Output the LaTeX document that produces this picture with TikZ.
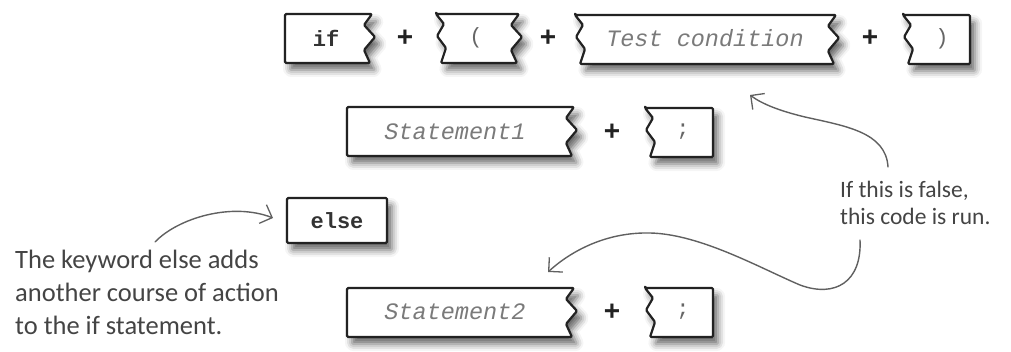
\documentclass[tikz,border=0pt]{standalone}
\usepackage{fontspec}
\setmonofont{Liberation Mono}
\newfontfamily\handfont{Carlito}
\newfontfamily\plusfont{Liberation Sans}
\usetikzlibrary{arrows.meta,shadows.blur}
\definecolor{ink}{HTML}{222222}
\definecolor{codedark}{HTML}{333333}
\definecolor{codegray}{HTML}{7A7A7A}
\definecolor{punct}{HTML}{666666}
\definecolor{handink}{HTML}{444444}
\definecolor{arrowink}{HTML}{606060}
\begin{document}
\begin{tikzpicture}[x=1pt,y=-1pt,
  frame/.style={draw=ink, line width=2.2pt, fill=white, line join=round, rounded corners=1.2pt,
    blur shadow={shadow xshift=5pt, shadow yshift=-7pt, shadow blur radius=7pt, shadow opacity=60}},
  wr/.style 2 args={insert path={-- ({#1-8},{#2+11}) -- ({#1+3},{#2+23}) -- ({#1-8},{#2+36}) -- ({#1-2},{#2+49})}},
  wl/.style 2 args={insert path={-- ({#1+10},{#2+34}) -- ({#1+1},{#2+22}) -- ({#1+8},{#2+10}) -- (#1,#2)}},
  kw/.style={font=\ttfamily\bfseries\fontsize{22}{24}\selectfont, text=codedark, inner sep=0pt},
  pn/.style={font=\ttfamily\fontsize{22}{24}\selectfont, text=punct, inner sep=0pt},
  ph/.style={font=\ttfamily\itshape\fontsize{23.5}{26}\selectfont, text=codegray, inner sep=0pt},
  plus/.style={font=\plusfont\bfseries\fontsize{28}{28}\selectfont, text=ink, inner sep=0pt},
  hand/.style={font=\handfont\fontsize{26.5}{33}\selectfont, text=handink, align=left, inner sep=0pt},
  handsmall/.style={font=\handfont\fontsize{23.5}{27}\selectfont, text=handink, align=left, inner sep=0pt},
  arr/.style={draw=arrowink, line width=1.4pt, line cap=round,
    -{Straight Barb[length=10pt,width=20pt,line width=1.3pt]}}
]
\useasboundingbox (0,0) rectangle (1011,352);

% ---- row 1 ----
\draw[frame] (285,14) -- (372,14) [wr={372}{14}] -- (285,63) -- cycle;
\draw[frame] (436,14) -- (519,14) [wr={519}{14}] -- ({436+5},63) [wl={436}{14}] -- cycle;
\draw[frame] (575,15) -- (836,15) [wr={836}{15}] -- ({575+5},64) [wl={575}{15}] -- cycle;
\draw[frame] (903,15) -- (970,15) -- (970,64) -- ({903+5},64) [wl={903}{15}] -- cycle;

\node[kw] (if) at (326,38) {if};
\node[plus] (p1) at (405,38) {+};
\node[pn] (lp) at (476,38) {(};
\node[plus] (p2) at (548,38) {+};
\node[ph] (test) at (705,38) {Test condition};
\node[plus] (p3) at (870,38) {+};
\node[pn] (rp) at (942,39) {)};

% ---- row 2 ----
\draw[frame] (347,107) -- (574,107) [wr={574}{107}] -- (347,156) -- cycle;
\draw[frame] (645,108) -- (713,108) -- (713,157) -- ({645+5},157) [wl={645}{108}] -- cycle;
\node[ph] (st1) at (455,132) {Statement1};
\node[plus] (p4) at (612,132) {+};
\node[pn] (sc1) at (683,132) {;};

% ---- else ----
\draw[frame] (287,198) rectangle (387,243);
\node[kw] (else) at (337,221) {else};

% ---- row 4 ----
\draw[frame] (347,288) -- (574,288) [wr={574}{288}] -- (347,337) -- cycle;
\draw[frame] (645,288) -- (713,288) -- (713,337) -- ({645+5},337) [wl={645}{288}] -- cycle;
\node[ph] (st2) at (455,312) {Statement2};
\node[plus] (p5) at (612,312) {+};
\node[pn] (sc2) at (683,312) {;};

% ---- annotations ----
\node[hand, anchor=north west] (lefttext) at (15,250)
  {The keyword else adds\\another course of action\\to the if statement.};
\node[handsmall, anchor=north west] (righttext) at (840,181)
  {If this is false,\\this code is run.};

\coordinate (a1s) at (888,167);
\coordinate (a1e) at (750,95);
\coordinate (a2s) at (860,240);
\coordinate (a2e) at (548,272);
\coordinate (a3s) at (155,242);
\coordinate (a3e) at (273,218);

\draw[arr] (a1s) .. controls (886,132) and (845,126) .. (805,117)
                 .. controls (780,111) and (762,104) .. (a1e);
\draw[arr] (a2s) .. controls (862,282) and (835,298) .. (800,285)
                 .. controls (760,268) and (700,234) .. (650,233)
                 .. controls (605,232) and (570,252) .. (a2e);
\draw[arr] (a3s) .. controls (178,218) and (232,202) .. (a3e);
\end{tikzpicture}
\end{document}
